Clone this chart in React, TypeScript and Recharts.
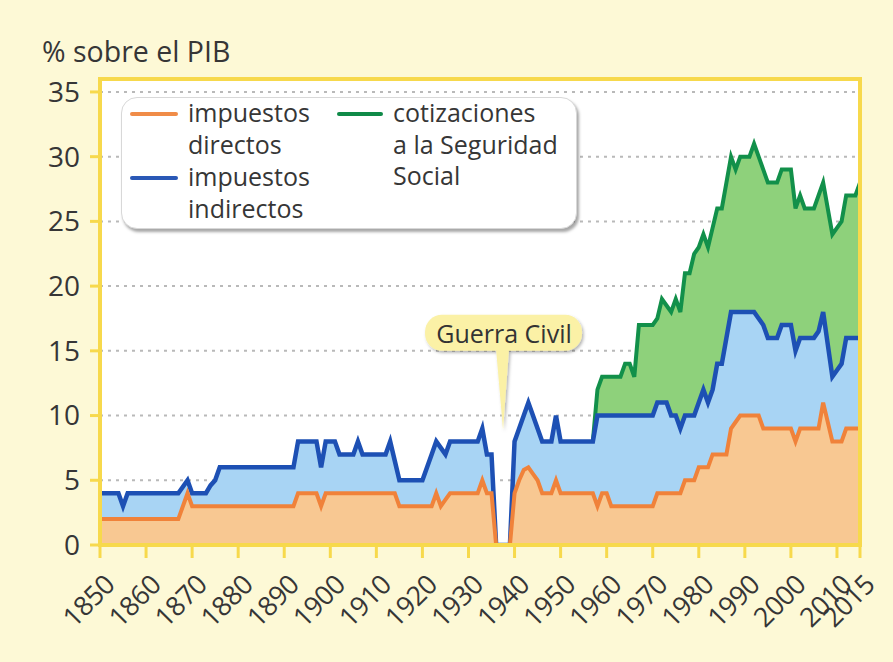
import React from 'react';
import {
  ComposedChart,
  Area,
  XAxis,
  YAxis,
  CartesianGrid,
  ReferenceArea,
  ReferenceDot,
} from 'recharts';

// Años de los puntos de cambio
const years = [
  1850, 1854, 1855, 1856, 1867, 1869, 1870, 1873, 1874, 1875, 1876, 1892, 1893, 1897, 1898, 1899,
  1901, 1902, 1905, 1906, 1907, 1912, 1913, 1914, 1915, 1920, 1922, 1923, 1924, 1925, 1926, 1932,
  1933, 1934, 1935, 1936, 1939, 1940, 1941, 1942, 1943, 1944, 1945, 1946, 1948, 1949, 1950, 1957,
  1958, 1959, 1960, 1961, 1963, 1964, 1965, 1966, 1967, 1970, 1971, 1972, 1973, 1974, 1975, 1976,
  1977, 1978, 1979, 1980, 1981, 1982, 1983, 1984, 1985, 1986, 1987, 1988, 1989, 1991, 1992, 1993,
  1994, 1995, 1997, 1998, 2000, 2001, 2002, 2003, 2005, 2006, 2007, 2009, 2010, 2011, 2012, 2014,
  2015,
];

// Nivel de la línea naranja: impuestos directos (% PIB)
const impuestosDirectos = [
  2, 2, 2, 2, 2, 4, 3, 3, 3, 3, 3, 3, 4, 4, 3, 4,
  4, 4, 4, 4, 4, 4, 4, 4, 3, 3, 3, 4, 3, 3.5, 4, 4,
  5, 4, 4, 0, 0, 4, 5, 5.8, 6, 5.5, 5, 4, 4, 5, 4, 4,
  3, 4, 4, 3, 3, 3, 3, 3, 3, 3, 4, 4, 4, 4, 4, 4,
  5, 5, 5, 6, 6, 6, 7, 7, 7, 7, 9, 9.5, 10, 10, 10, 10,
  9, 9, 9, 9, 9, 8, 9, 9, 9, 9, 11, 8, 8, 8, 9, 9,
  9,
];

// Nivel de la línea azul: directos + indirectos (% PIB)
const impuestosIndirectosAcum = [
  4, 4, 3, 4, 4, 5, 4, 4, 4.6, 5, 6, 6, 8, 8, 6, 8,
  8, 7, 7, 8, 7, 7, 8, 6.5, 5, 5, 7, 8, 7.5, 7, 8, 8,
  9, 7, 7, 0, 0, 8, 9, 10, 11, 10, 9, 8, 8, 10, 8, 8,
  10, 10, 10, 10, 10, 10, 10, 10, 10, 10, 11, 11, 11, 10, 10, 9,
  10, 10, 10, 11, 12, 11, 12, 14, 14, 16, 18, 18, 18, 18, 18, 17.5,
  17, 16, 16, 17, 17, 15, 16, 16, 16, 16.5, 18, 13, 13.5, 14, 16, 16,
  16,
];

// Nivel de la línea verde: total con cotizaciones a la Seguridad Social (% PIB)
const cotizacionesAcum = [
  null, null, null, null, null, null, null, null, null, null, null, null, null, null, null, null,
  null, null, null, null, null, null, null, null, null, null, null, null, null, null, null, null,
  null, null, null, null, null, null, null, null, null, null, null, null, null, null, null, 8,
  12, 13, 13, 13, 13, 14, 14, 13, 17, 17, 17.5, 19, 18.5, 18, 19, 18,
  21, 21, 22.5, 23, 24, 23, 24.5, 26, 26, 28, 30, 29, 30, 30, 31, 30,
  29, 28, 28, 29, 29, 26, 27, 26, 26, 27, 28, 24, 24.5, 25, 27, 27,
  28,
];

const xTicks = [1850, 1860, 1870, 1880, 1890, 1900, 1910, 1920, 1930, 1940, 1950, 1960, 1970, 1980, 1990, 2000, 2010, 2015];
const yTicks = [0, 5, 10, 15, 20, 25, 30, 35];

const data = years.map((year, i) => ({
  year,
  directos: impuestosDirectos[i],
  indirectos: impuestosIndirectosAcum[i],
  cotizaciones: cotizacionesAcum[i],
}));

const YELLOW = '#f7d94c';
const TEXT = '#363636';
const FONT = '"Open Sans", "Noto Sans", sans-serif';

const XTick = (props: any) => {
  const { x, y, payload } = props;
  const ax = x + 9;
  const ay = y + 21;
  return (
    <text
      x={ax}
      y={ay}
      transform={`rotate(-45 ${ax} ${ay})`}
      textAnchor="end"
      dominantBaseline="central"
      fontSize={27}
      letterSpacing={-0.5}
      fontFamily={FONT}
      fill={TEXT}
    >
      {payload.value}
    </text>
  );
};

const Callout = (props: any) => {
  const { cx, cy } = props;
  if (cx == null || cy == null) return null;
  const left = cx - 78;
  const top = cy - 115;
  return (
    <g>
      <defs>
        <filter id="calloutShadow" x="-20%" y="-40%" width="140%" height="180%">
          <feDropShadow dx="1.5" dy="2" stdDeviation="1.5" floodColor="#000" floodOpacity="0.3" />
        </filter>
      </defs>
      <g filter="url(#calloutShadow)">
        <rect x={left} y={top} width={157} height={36} rx={17} ry={17} fill="#fbf1a6" />
        <path d={`M ${cx - 7} ${top + 34} L ${cx + 6} ${top + 34} L ${cx} ${cy} Z`} fill="#fbf1a6" />
      </g>
      <text
        x={left + 79}
        y={top + 18}
        textAnchor="middle"
        dominantBaseline="central"
        fontSize={25}
        fontFamily={FONT}
        fill="#333"
      >
        Guerra Civil
      </text>
    </g>
  );
};

const legendText: React.CSSProperties = {
  position: 'absolute',
  fontSize: 25,
  lineHeight: '31.5px',
  color: TEXT,
  fontFamily: FONT,
  whiteSpace: 'pre',
};

export default function App() {
  return (
    <div
      style={{
        position: 'absolute',
        left: 0,
        top: 0,
        width: 893,
        height: 662,
        background: '#fdf9d6',
        fontFamily: FONT,
        overflow: 'hidden',
      }}
    >
      <ComposedChart
        width={893}
        height={662}
        data={data}
        margin={{ top: 79, right: 33, left: 0, bottom: 0 }}
      >
        <CartesianGrid
          vertical={false}
          fill="#ffffff"
          stroke="#b9b9b9"
          strokeWidth={2}
          strokeDasharray="3 5"
        />
        <XAxis
          dataKey="year"
          type="number"
          domain={[1850, 2015]}
          ticks={xTicks}
          interval={0}
          height={117}
          tickSize={13}
          tickMargin={0}
          axisLine={{ stroke: YELLOW, strokeWidth: 4 }}
          tickLine={{ stroke: YELLOW, strokeWidth: 3 }}
          tick={<XTick />}
          allowDataOverflow
        />
        <YAxis
          type="number"
          domain={[0, 36]}
          ticks={yTicks}
          interval={0}
          width={100}
          tickSize={10}
          tickMargin={10}
          axisLine={{ stroke: YELLOW, strokeWidth: 4 }}
          tickLine={{ stroke: YELLOW, strokeWidth: 3 }}
          tick={{ fontSize: 28, fill: TEXT, fontFamily: FONT }}
          allowDataOverflow
        />
        <Area
          type="linear"
          dataKey="cotizaciones"
          stroke="#12904a"
          strokeWidth={4}
          fill="#8ed17b"
          fillOpacity={1}
          baseValue={0}
          isAnimationActive={false}
          dot={false}
          activeDot={false}
        />
        <Area
          type="linear"
          dataKey="indirectos"
          stroke="#1d50b4"
          strokeWidth={4.5}
          fill="#a8d4f4"
          fillOpacity={1}
          baseValue={0}
          isAnimationActive={false}
          dot={false}
          activeDot={false}
        />
        <Area
          type="linear"
          dataKey="directos"
          stroke="#f0823a"
          strokeWidth={4}
          fill="#f8c892"
          fillOpacity={1}
          baseValue={0}
          isAnimationActive={false}
          dot={false}
          activeDot={false}
        />
        <ReferenceArea
          x1={1850}
          x2={2015}
          y1={0}
          y2={36}
          fill="none"
          fillOpacity={0}
          stroke={YELLOW}
          strokeWidth={4}
          ifOverflow="visible"
        />
        <ReferenceDot x={1937.5} y={8.9} r={0} ifOverflow="visible" shape={<Callout />} />
      </ComposedChart>

      <div
        style={{
          position: 'absolute',
          left: 42,
          top: 35,
          fontSize: 28.5,
          lineHeight: '32px',
          color: TEXT,
          whiteSpace: 'pre',
        }}
      >
        % sobre el PIB
      </div>

      <div
        style={{
          position: 'absolute',
          left: 121,
          top: 97,
          width: 454,
          height: 130,
          background: '#ffffff',
          borderRadius: 16,
          border: '1px solid #d8d8d8',
          boxShadow: '2px 3px 3px rgba(0,0,0,0.35)',
        }}
      />
      <div style={{ position: 'absolute', left: 130, top: 112, width: 48, height: 4, background: '#f08c48', borderRadius: 2 }} />
      <div style={{ ...legendText, left: 188, top: 97 }}>{'impuestos\ndirectos'}</div>
      <div style={{ position: 'absolute', left: 130, top: 176, width: 48, height: 4, background: '#2a58b6', borderRadius: 2 }} />
      <div style={{ ...legendText, left: 188, top: 161 }}>{'impuestos\nindirectos'}</div>
      <div style={{ position: 'absolute', left: 337, top: 112, width: 46, height: 4, background: '#0f8a48', borderRadius: 2 }} />
      <div style={{ ...legendText, left: 393, top: 97 }}>{'cotizaciones\na la Seguridad\nSocial'}</div>
    </div>
  );
}
